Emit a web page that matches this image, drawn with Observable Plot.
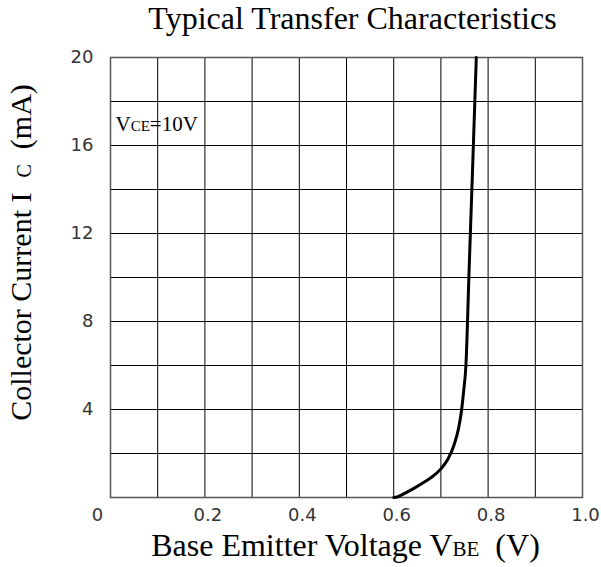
<!DOCTYPE html>
<html><head><meta charset="utf-8">
<script src="https://cdn.jsdelivr.net/npm/d3@7"></script>
<script src="https://cdn.jsdelivr.net/npm/@observablehq/plot@0.6"></script>
<style>
body{margin:0;background:#fff}
#chart svg{display:block}
#chart text{white-space:pre}
</style>
</head><body><div id="chart"></div>
<script>
// Transfer characteristic (VCE = 10 V)
const vbe = [0.600, 0.607, 0.615, 0.640, 0.665, 0.681, 0.700, 0.715, 0.728, 0.738, 0.744, 0.748, 0.753, 0.760, 0.768, 0.775];
const ic  = [0.00,  0.02,  0.10,  0.38,  0.70,  0.93,  1.30,  1.75,  2.40,  3.20,  4.00,  4.80,  6.00,  10.5,  15.5,  20.0];

const xGrid = [0, 0.1, 0.2, 0.3, 0.4, 0.5, 0.6, 0.7, 0.8, 0.9, 1.0];
const yGrid = [0, 2, 4, 6, 8, 10, 12, 14, 16, 18, 20];
const xTickLabels = [0.2, 0.4, 0.6, 0.8, 1.0];
const xZeroLabel = [0];
const yTickLabels = [4, 8, 12, 16, 20];

const titleText = "Typical Transfer Characteristics";
const xLabel = "Base Emitter Voltage VBE  (V)";
const yLabel = "Collector Current I  C  (mA)";
const annotation = "VCE=10V";

const curve = vbe.map((v, i) => ({vbe: v, ic: ic[i]}));
const serif = "Liberation Serif, Times New Roman, serif";
const sans = "DejaVu Sans, sans-serif";

const chart = Plot.plot({
  width: 601, height: 567,
  marginLeft: 110, marginRight: 19, marginTop: 57, marginBottom: 70,
  x: {domain: [0, 1]},
  y: {domain: [0, 20]},
  style: {background: "#fff", fontFamily: sans, fontSize: "18px", color: "#000"},
  marks: [
    Plot.ruleX(xGrid, {stroke: "#000", strokeWidth: 1}),
    Plot.ruleY(yGrid, {stroke: "#000", strokeWidth: 1}),
    Plot.frame({stroke: "#555", strokeWidth: 1.5}),
    Plot.line(curve, {x: "vbe", y: "ic", stroke: "#000", strokeWidth: 3, curve: "monotone-x"}),
    Plot.axisX(xTickLabels, {tickSize: 0, tickPadding: 11, tickFormat: d3.format(".1f"), fontSize: 18, fontFamily: sans, color: "#333", dx: 3, label: null}),
    Plot.axisX(xZeroLabel, {tickSize: 0, tickPadding: 11, tickFormat: d => String(d), fontSize: 18, fontFamily: sans, color: "#333", dx: -13, label: null}),
    Plot.axisY(yTickLabels, {tickSize: 0, tickPadding: 17, tickFormat: d => String(d), fontSize: 18, fontFamily: sans, color: "#333", label: null}),
    Plot.text([titleText], {text: d => d, frameAnchor: "top", textAnchor: "middle", lineAnchor: "bottom", dy: -29, dx: 6, fontSize: 32, fontFamily: serif, fill: "#000"}),
    Plot.text([xLabel], {text: d => d, frameAnchor: "bottom", textAnchor: "middle", lineAnchor: "bottom", dy: 58, dx: -1, fontSize: 32, fontFamily: serif, fill: "#000"}),
    Plot.text([yLabel], {text: d => d, frameAnchor: "left", textAnchor: "middle", lineAnchor: "bottom", rotate: -90, dx: -80, dy: -25, fontSize: 30, fontFamily: serif, fill: "#000"}),
    Plot.text([annotation], {text: d => d, frameAnchor: "top-left", textAnchor: "start", lineAnchor: "bottom", dx: 5, dy: 73, fontSize: 21, fontFamily: serif, fill: "#000"})
  ]
});

document.getElementById("chart").appendChild(chart);

// subscripts rendered as smaller text
const subs = {
  [xLabel]: ["Base Emitter Voltage V", ["BE", 21], "  (V)"],
  [yLabel]: ["Collector Current I  ", ["C", 20], "  (mA)"],
  [annotation]: ["V", ["CE", 15], "=10V"]
};
d3.select(chart).selectAll("text").each(function () {
  const parts = subs[this.textContent];
  if (!parts) return;
  const t = d3.select(this);
  t.text(null);
  for (const p of parts) {
    if (Array.isArray(p)) t.append("tspan").attr("font-size", p[1]).text(p[0]);
    else t.append("tspan").text(p);
  }
});
</script>
</body></html>
